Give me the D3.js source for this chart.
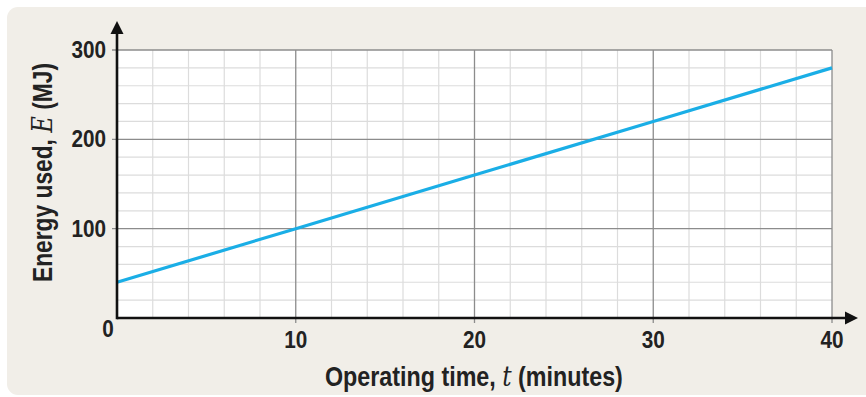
<!DOCTYPE html>
<html><head><meta charset="utf-8">
<script src="https://cdn.jsdelivr.net/npm/d3@7"></script>
<style>body{margin:0;background:#fff}svg{display:block}</style>
</head><body>
<svg id="c" width="866" height="397"></svg>
<script>
const timeMinutes = [0, 10, 20, 30, 40];
const energyMJ = [40, 100, 160, 220, 280];
const xTicks = [0, 10, 20, 30, 40];
const yTicks = [0, 100, 200, 300];
const xMinor = d3.range(0, 41, 2);
const yMinor = d3.range(0, 301, 20);
const xTitle = "Operating time,";
const xVar = "t";
const xUnit = "(minutes)";
const yTitle = "Energy used,";
const yVar = "E";
const yUnit = "(MJ)";

const svg = d3.select("#c");
const font = "'Liberation Sans Narrow','Arial Narrow','Liberation Sans',Arial,sans-serif";
svg.append("rect").attr("x",7).attr("y",7).attr("width",880).attr("height",388).attr("rx",11).attr("fill","#f1eee8");

const x = d3.scaleLinear().domain([0,40]).range([117,832]);
const y = d3.scaleLinear().domain([0,300]).range([318,50]);

svg.append("rect").attr("x",x(0)).attr("y",y(300)).attr("width",x(40)-x(0)).attr("height",y(0)-y(300)).attr("fill","#fff");

const g = svg.append("g");
g.selectAll(".vx").data(xMinor.filter(d=>d%10!==0)).join("line")
  .attr("x1",d=>x(d)).attr("x2",d=>x(d)).attr("y1",y(0)).attr("y2",y(300))
  .attr("stroke","#dcdcdc").attr("stroke-width",1.2);
g.selectAll(".hy").data(yMinor.filter(d=>d%100!==0)).join("line")
  .attr("y1",d=>y(d)).attr("y2",d=>y(d)).attr("x1",x(0)).attr("x2",x(40))
  .attr("stroke","#dcdcdc").attr("stroke-width",1.2);
g.selectAll(".vX").data(xTicks.filter(d=>d>0)).join("line")
  .attr("x1",d=>x(d)).attr("x2",d=>x(d)).attr("y1",y(0)+5).attr("y2",y(300))
  .attr("stroke","#8c8c8c").attr("stroke-width",1.3);
g.selectAll(".hY").data(yTicks.filter(d=>d>0)).join("line")
  .attr("y1",d=>y(d)).attr("y2",d=>y(d)).attr("x1",x(0)-5).attr("x2",x(40))
  .attr("stroke","#8c8c8c").attr("stroke-width",1.3);

// data line
const line = d3.line().x((d,i)=>x(timeMinutes[i])).y(d=>y(d));
svg.append("path").datum(energyMJ).attr("d",line).attr("fill","none")
  .attr("stroke","#1aaee6").attr("stroke-width",3.2);

// axes
svg.append("line").attr("x1",x(0)).attr("x2",848).attr("y1",y(0)).attr("y2",y(0)).attr("stroke","#111").attr("stroke-width",2.6);
svg.append("line").attr("x1",x(0)).attr("x2",x(0)).attr("y1",y(0)+1.3).attr("y2",32).attr("stroke","#111").attr("stroke-width",2.6);
svg.append("path").attr("d",`M${x(0)},21 L${x(0)-6.5},34 L${x(0)+6.5},34 Z`).attr("fill","#111");
svg.append("path").attr("d",`M858,${y(0)} L845,${y(0)-6.5} L845,${y(0)+6.5} Z`).attr("fill","#111");

// tick labels (slightly condensed)
function tickText(sel, tx, ty, anchor, t){
  sel.append("text").attr("transform",`translate(${tx},${ty}) scale(0.9,1)`)
    .attr("text-anchor",anchor)
    .attr("font-family",font).attr("font-weight","bold").attr("font-size",23).attr("fill","#222")
    .text(t);
}
xTicks.filter(d=>d>0).forEach(d=>tickText(svg, x(d), 348, "middle", d));
yTicks.filter(d=>d>0).forEach(d=>tickText(svg, 106, y(d)+8, "end", d));
tickText(svg, 108, 337, "middle", xTicks[0]);

// titles: condensed by a horizontal scale to fit the reference width
function title(outer, parts, target){
  const inner = outer.append("g");
  const t = inner.append("text")
    .attr("font-family",font).attr("font-weight","bold").attr("font-size",27).attr("fill","#222");
  t.append("tspan").text(parts[0]+" ");
  t.append("tspan").attr("font-family","'DejaVu Serif','Liberation Serif',serif").attr("font-style","italic").attr("font-weight","normal").text(parts[1]);
  t.append("tspan").text(" "+parts[2]);
  const w = t.node().getComputedTextLength();
  inner.attr("transform",`scale(${target/w},1)`);
}
title(svg.append("g").attr("transform","translate(325,386)"), [xTitle,xVar,xUnit], 298);
title(svg.append("g").attr("transform","translate(52,282) rotate(-90)"), [yTitle,yVar,yUnit], 219);
</script>
</body></html>
